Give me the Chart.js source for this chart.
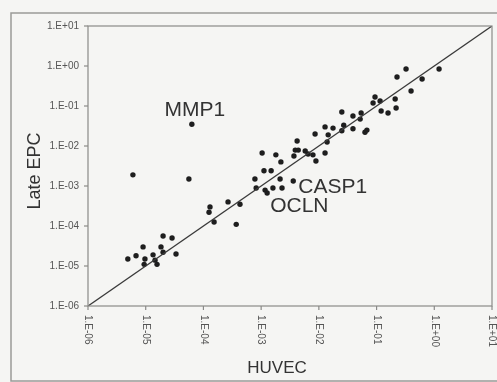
<!DOCTYPE html>
<html>
<head>
<meta charset="utf-8">
<script src="https://cdn.jsdelivr.net/npm/chart.js@4"></script>
<style>
  html, body { margin: 0; padding: 0; background: #f5f5f3; }
  canvas { display: block; }
</style>
</head>
<body>
<canvas id="chart" width="497" height="382"></canvas>
<script>
// values (HUVEC on x, Late EPC on y)
const huvec = [
    4.9e-6, 6.8e-6, 9.0e-6, 9.7e-6, 9.4e-6, 1.34e-5, 1.45e-5, 1.57e-5, 1.84e-5, 2.0e-5,
    2.86e-5, 2.0e-5, 3.35e-5, 6.0e-6, 5.6e-5, 6.3e-5, 1.3e-4, 1.25e-4, 1.53e-4, 2.67e-4,
    3.7e-4, 4.3e-4, 7.8e-4, 1.04e-3, 1.12e-3, 1.49e-3, 8.2e-4, 1.17e-3, 1.27e-3, 1.6e-3,
    2.3e-3, 2.13e-3, 1.8e-3, 2.2e-3, 3.6e-3, 3.9e-3, 4.2e-3, 3.7e-3, 4.4e-3, 5.8e-3,
    6.5e-3, 8.6e-3, 7.9e-3, 8.9e-3, 1.28e-2, 1.28e-2, 1.45e-2, 1.39e-2, 1.76e-2, 2.5e-2,
    2.7e-2, 2.5e-2, 3.9e-2, 5.4e-2, 3.9e-2, 5.2e-2, 6.3e-2, 6.8e-2, 8.7e-2, 9.4e-2,
    0.115, 0.12, 0.158, 0.21, 0.218, 0.226, 0.324, 0.396, 0.615, 1.21
];
const lateEpc = [
    1.5e-5, 1.8e-5, 3.0e-5, 1.5e-5, 1.1e-5, 1.9e-5, 1.4e-5, 1.1e-5, 3.0e-5, 5.6e-5,
    5.0e-5, 2.2e-5, 2.0e-5, 1.9e-3, 1.5e-3, 3.5e-2, 3.0e-4, 2.2e-4, 1.26e-4, 4.0e-4,
    1.1e-4, 3.5e-4, 1.5e-3, 6.7e-3, 2.4e-3, 2.4e-3, 8.9e-4, 7.9e-4, 6.7e-4, 8.9e-4,
    8.9e-4, 1.5e-3, 6.0e-3, 4.0e-3, 1.33e-3, 7.9e-3, 1.33e-2, 5.6e-3, 7.9e-3, 7.5e-3,
    6.3e-3, 2.0e-2, 6.0e-3, 4.2e-3, 6.7e-3, 3.0e-2, 1.9e-2, 1.26e-2, 2.8e-2, 2.4e-2,
    3.3e-2, 7.1e-2, 5.6e-2, 6.7e-2, 2.7e-2, 4.7e-2, 2.2e-2, 2.5e-2, 0.119, 0.168,
    0.133, 7.5e-2, 6.7e-2, 0.15, 8.9e-2, 0.53, 0.84, 0.237, 0.473, 0.84
];
const tickValues = [1e-6, 1e-5, 1e-4, 1e-3, 1e-2, 1e-1, 1, 10];
const tickLabels = ["1.E-06", "1.E-05", "1.E-04", "1.E-03", "1.E-02", "1.E-01", "1.E+00", "1.E+01"];
const geneNames = ["MMP1", "OCLN", "CASP1"];
const geneIndex = [15, 28, 34];
const diagonal = [1e-6, 10];

const FONT = "'Liberation Sans', Arial, sans-serif";

const points = huvec.map((x, i) => ({ x: x, y: lateEpc[i] }));

// frame, ticks, rotated tick labels and annotations
const decor = {
    id: "decor",
    beforeDraw(chart) {
        const ctx = chart.ctx;
        ctx.save();
        ctx.fillStyle = "#f5f5f3";
        ctx.fillRect(0, 0, chart.width, chart.height);
        ctx.strokeStyle = "#9a9a98";
        ctx.lineWidth = 1.5;
        ctx.strokeRect(11, 13, 500, 368);
        ctx.restore();
    },
    afterDraw(chart) {
        const ctx = chart.ctx;
        const a = chart.chartArea;
        const xs = chart.scales.x;
        const ys = chart.scales.y;
        ctx.save();

        ctx.strokeStyle = "#8a8a88";
        ctx.lineWidth = 1.2;
        ctx.strokeRect(a.left, a.top, a.right - a.left, a.bottom - a.top);

        ctx.fillStyle = "#555";
        ctx.font = "10px " + FONT;
        tickValues.forEach((v, i) => {
            const py = ys.getPixelForValue(v);
            ctx.beginPath();
            ctx.moveTo(a.left - 4, py);
            ctx.lineTo(a.left, py);
            ctx.stroke();
            ctx.textAlign = "right";
            ctx.textBaseline = "middle";
            ctx.fillText(tickLabels[i], a.left - 9, py);

            const px = xs.getPixelForValue(v);
            ctx.beginPath();
            ctx.moveTo(px, a.bottom);
            ctx.lineTo(px, a.bottom + 4);
            ctx.stroke();
            ctx.save();
            ctx.translate(px, a.bottom + 9);
            ctx.rotate(Math.PI / 2);
            ctx.textAlign = "left";
            ctx.textBaseline = "middle";
            ctx.fillText(tickLabels[i], 0, 0);
            ctx.restore();
        });

        // axis titles
        ctx.fillStyle = "#333";
        ctx.font = "18px " + FONT;
        ctx.save();
        ctx.translate(a.left - 53, (a.top + a.bottom) / 2 + 5);
        ctx.rotate(-Math.PI / 2);
        ctx.textAlign = "center";
        ctx.textBaseline = "middle";
        ctx.fillText("Late EPC", 0, 0);
        ctx.restore();
        ctx.font = "17px " + FONT;
        ctx.textAlign = "center";
        ctx.textBaseline = "middle";
        ctx.fillText("HUVEC", a.left + 189, a.bottom + 62);

        // gene labels next to their points
        ctx.font = "21px " + FONT;
        ctx.textBaseline = "alphabetic";
        const offsets = { MMP1: [3, -8, "center"], OCLN: [3, 19, "left"], CASP1: [5, 12, "left"] };
        geneNames.forEach((name, i) => {
            const p = points[geneIndex[i]];
            const px = xs.getPixelForValue(p.x);
            const py = ys.getPixelForValue(p.y);
            const o = offsets[name];
            ctx.textAlign = o[2];
            ctx.fillText(name, px + o[0], py + o[1]);
        });
        ctx.restore();
    }
};

new Chart(document.getElementById("chart"), {
    type: "scatter",
    data: {
        datasets: [
            {
                type: "line",
                data: diagonal.map(v => ({ x: v, y: v })),
                borderColor: "#3a3a3a",
                borderWidth: 1.3,
                pointRadius: 0,
                fill: false
            },
            {
                data: points,
                backgroundColor: "#1e1e1e",
                borderColor: "#1e1e1e",
                pointRadius: 2.7,
                borderWidth: 0
            }
        ]
    },
    options: {
        responsive: false,
        devicePixelRatio: 1,
        animation: false,
        layout: { padding: { left: 0, right: 5, top: 26, bottom: 0 } },
        plugins: { legend: { display: false }, tooltip: { enabled: false } },
        scales: {
            x: {
                type: "logarithmic",
                min: 1e-6,
                max: 10,
                ticks: { display: false },
                grid: { display: false },
                border: { display: false },
                afterFit(scale) { scale.height = 76; }
            },
            y: {
                type: "logarithmic",
                min: 1e-6,
                max: 10,
                ticks: { display: false },
                grid: { display: false },
                border: { display: false },
                afterFit(scale) { scale.width = 88; }
            }
        }
    },
    plugins: [decor]
});
</script>
</body>
</html>
